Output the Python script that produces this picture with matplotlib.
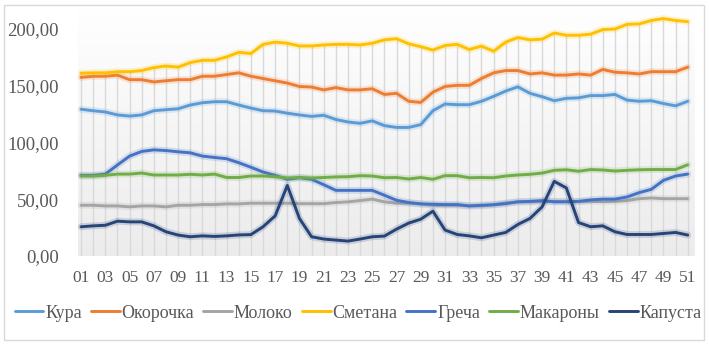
import numpy as np
import matplotlib
matplotlib.use("Agg")
import matplotlib.pyplot as plt
import matplotlib.patheffects as pe
from matplotlib.patches import Rectangle

weeks = list(range(1, 52))
week_labels = [f"{w:02d}" for w in weeks]
xtick_weeks = weeks[::2]
xtick_labels = week_labels[::2]
yticks = [0, 50, 100, 150, 200]
ytick_labels = ["0,00", "50,00", "100,00", "150,00", "200,00"]

kura = [129, 127.7, 126.6, 124, 123, 124, 127.7, 128.6, 129.4, 132.7, 134.7, 135.6, 135.6, 132.7, 130,
        127.7, 127.4, 125.5, 124, 122.7, 123.7, 120, 117.8, 116.6, 118.8, 114.6, 113, 113, 115.5, 127.7,
        133.6, 133, 133, 136, 140.3, 145, 148.7, 143, 140, 136.5, 138.6, 139, 141, 141, 142, 137, 136,
        136.5, 134, 132, 136]
okorochka = [157, 158, 158, 159, 155, 155, 153, 154, 155, 155, 158, 158, 159.5, 161, 158, 156, 154, 152,
             149, 148.5, 146, 148, 146, 146, 147, 142, 143, 136, 135, 144, 149, 150, 150, 156, 161, 163,
             163, 160, 161, 159, 159, 160, 159, 164, 161.5, 161, 160, 162, 162, 162, 166]
moloko = [44.6, 44.6, 44, 44, 43.2, 44, 44, 43.2, 44.6, 44.6, 45.2, 45.2, 45.8, 45.8, 46.4, 46.4, 46.4,
          46.4, 46, 46, 46, 47, 47.6, 48.7, 50, 47.6, 46.4, 46.4, 45.8, 44.6, 44.6, 44.6, 44, 44, 45.2,
          46.7, 47.6, 47.6, 48, 48, 48, 48, 48, 47.8, 48, 48.7, 50.4, 51, 50.4, 50.4, 50.4]
smetana = [160.7, 161, 161, 162, 162, 163, 165.6, 167, 166, 170, 172, 172, 175, 179, 178, 186, 188, 187,
           184.6, 184.6, 185.5, 186, 186, 185.5, 187, 190, 191, 186.5, 184, 181, 185, 186, 181.5, 184.5,
           180, 188, 192, 190, 190.6, 196, 194, 194, 195, 199, 199.5, 203.6, 204, 207, 208.7, 207, 206]
grecha = [70.9, 70.9, 72, 80, 87.8, 91.9, 93.3, 92.7, 91.6, 90.7, 87.8, 86.6, 85.5, 82, 78, 73.8, 70.9,
          67.4, 68.8, 67.4, 62.7, 57.7, 57.7, 57.7, 57.7, 53.4, 49, 47, 45.8, 45.5, 45.2, 45.2, 44, 44.6,
          45, 46, 47.6, 48, 48.7, 47.6, 47.6, 48, 49.3, 50, 50, 51.9, 55.7, 58.6, 66.5, 70.3, 72]
makarony = [70.3, 70.3, 70.9, 72, 72, 72.9, 71.2, 71.2, 71.2, 71.8, 71.2, 72, 69, 69, 70.3, 70.3, 69.7,
            68.6, 69, 68.6, 69, 69.5, 69.7, 70.6, 70.3, 68.8, 69, 67.7, 69, 67.4, 70.6, 70.6, 68.8, 69,
            68.8, 70.3, 71.2, 71.8, 72.9, 75.3, 75.8, 74.5, 76, 75.6, 74.7, 75.3, 75.8, 76, 76, 76, 80.2]
kapusta = [25.7, 26.5, 27, 30.6, 30, 30, 26.5, 21.3, 18.4, 16.9, 17.7, 17.2, 17.7, 18.5, 18.8, 25.7, 35.3,
           62, 33, 16.9, 14.9, 14, 13.1, 14.9, 16.9, 17.5, 23.6, 28.9, 32.4, 39.4, 22.8, 18.9, 17.7, 16,
           18.4, 20.7, 27.7, 33, 43.2, 65.6, 59.8, 29.4, 25.7, 26.5, 21.3, 18.9, 18.9, 18.9, 19.8, 20.7, 18.4]

series_names = ["Кура", "Окорочка", "Молоко", "Сметана", "Греча", "Макароны", "Капуста"]
series_values = [kura, okorochka, moloko, smetana, grecha, makarony, kapusta]
series_colors = ["#5B9BD5", "#ED7D31", "#A5A5A5", "#FFC000", "#4472C4", "#70AD47", "#264478"]

plt.rcParams['font.family'] = ['Liberation Serif', 'DejaVu Serif']

W, H = 709, 345
fig = plt.figure(figsize=(W / 100, H / 100), dpi=100)
left, right, bottom, top = 78, 695, 256, 4
ax = fig.add_axes([left / W, 1 - bottom / H, (right - left) / W, (bottom - top) / H])
xmin, xmax, ymin, ymax = 0.75, 51.6, 0, 221.5
ax.set_xlim(xmin, xmax)
ax.set_ylim(ymin, ymax)

# gradient plot-area fill (white at top -> light gray at bottom)
t = np.linspace(0, 1, 256).reshape(-1, 1, 1)  # 0 at top, 1 at bottom
c_top = np.array([1.0, 1.0, 1.0])
c_bot = np.array([0.925, 0.925, 0.925])
img = c_top * (1 - t) + c_bot * t
ax.imshow(img, extent=[xmin, xmax, ymin, ymax], aspect='auto', zorder=0, origin='upper')

# drop lines
maxvals = np.max(np.array(series_values), axis=0)
ax.vlines(weeks, 0, maxvals, colors="#D9D9D9", linewidth=1.0, zorder=1)

for name, vals, col in zip(series_names, series_values, series_colors):
    ax.plot(weeks, vals, color=col, linewidth=2.1, label=name, zorder=3,
            solid_joinstyle='round', solid_capstyle='round',
            path_effects=[pe.Stroke(linewidth=5, foreground=col, alpha=0.18), pe.Normal()])

for s in ax.spines.values():
    s.set_visible(False)
ax.set_xticks(xtick_weeks)
ax.set_xticklabels(xtick_labels, fontsize=12.5, color="#595959")
ax.set_yticks(yticks)
ax.set_yticklabels(ytick_labels, fontsize=13.5, color="#595959")
ax.tick_params(axis='x', length=0, pad=10)
ax.tick_params(axis='y', length=0, pad=14)

handles, labels = ax.get_legend_handles_labels()
leg = fig.legend(handles, labels, loc='center', bbox_to_anchor=(0.505, 1 - 313 / H), ncol=7,
                 frameon=False, fontsize=13, handlelength=1.6, handletextpad=0.1,
                 columnspacing=0.5, borderaxespad=0)
for txt in leg.get_texts():
    txt.set_color("#595959")
for l in leg.get_lines():
    l.set_linewidth(2.1)
    l.set_path_effects([])

fig.patches.append(Rectangle((4 / W, 1 - 340 / H), 700 / W, 335 / H, transform=fig.transFigure,
                             fill=False, edgecolor="#D9D9D9", linewidth=1.0))

fig.savefig("out.png", dpi=100)
